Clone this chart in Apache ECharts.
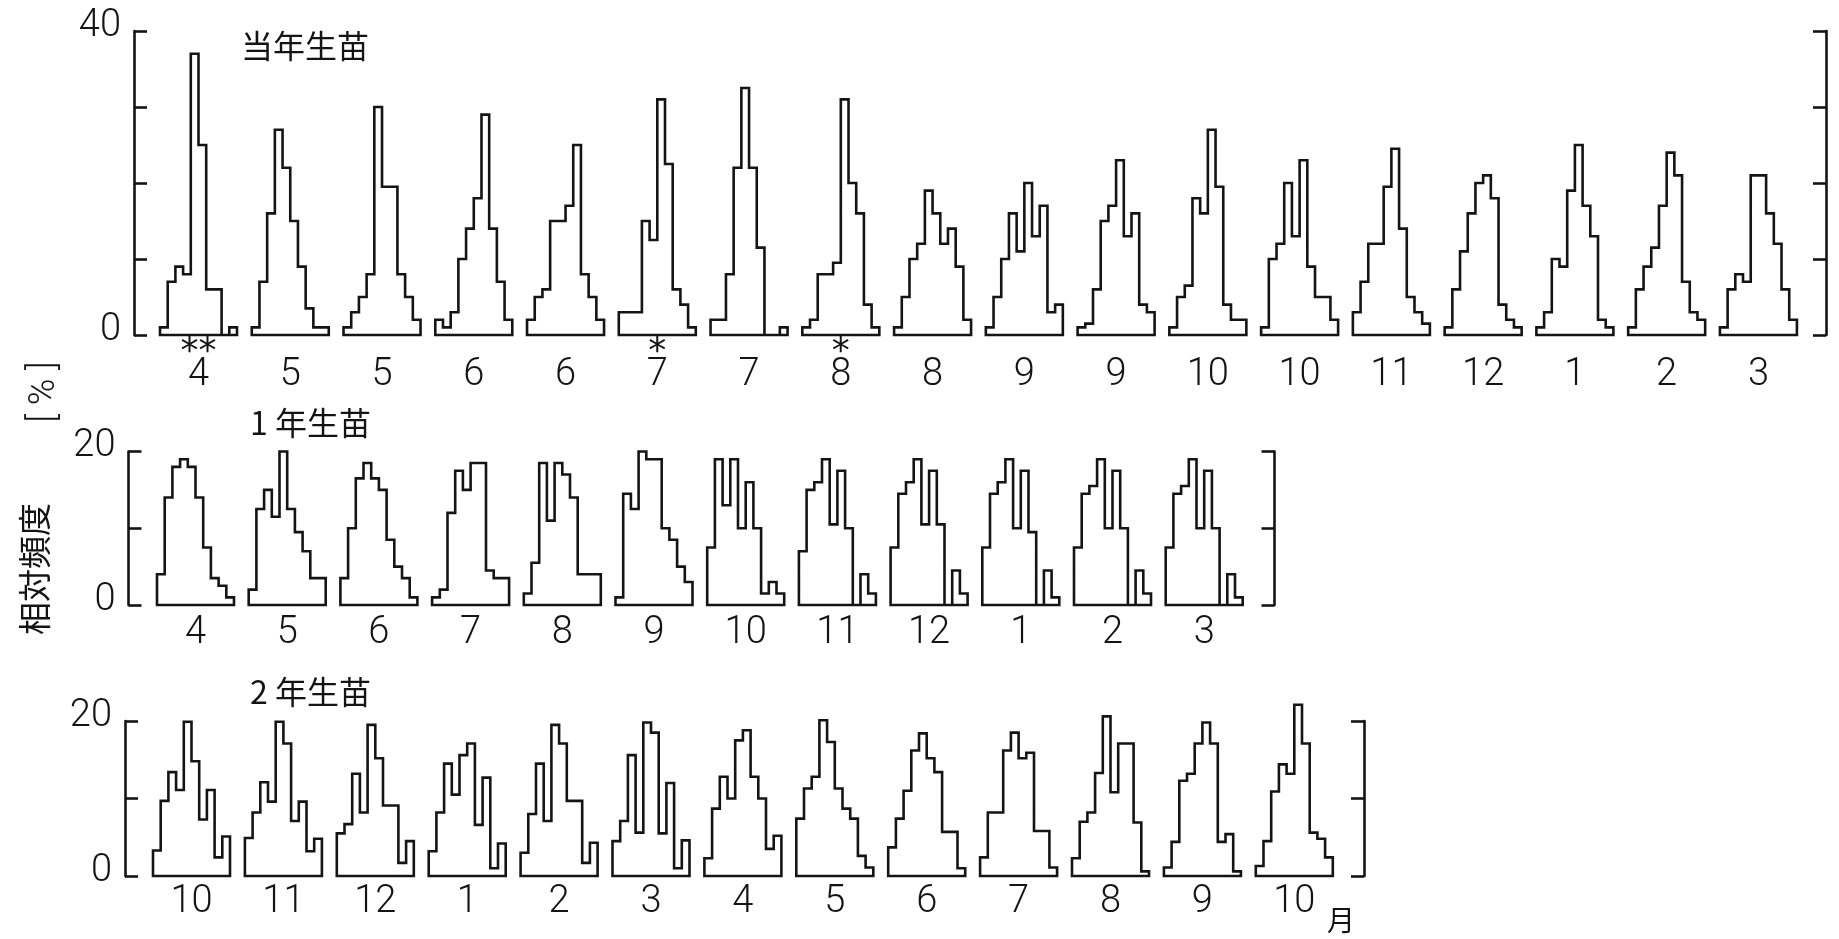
<!DOCTYPE html>
<html>
<head>
<meta charset="utf-8">
<script src="https://cdn.jsdelivr.net/npm/echarts@6/dist/echarts.min.js"></script>
<style>
  html, body { margin: 0; padding: 0; background: #ffffff; }
  #chart { width: 1839px; height: 939px; }
</style>
</head>
<body>
<div id="chart"></div>
<script>
// Relative frequency [%] of 10 size classes, one histogram per sampling month.

// 当年生苗 (seedlings of the current year)
const monthsCurrent = ['4','5','5','6','6','7','7','8','8','9','9','10','10','11','12','1','2','3'];
const marksCurrent  = ['**','','','','','*','','*','','','','','','','','','',''];
const freqCurrent = [
  [1, 7, 9, 8, 37, 25, 6, 6, 0, 1],
  [1, 7, 16, 27, 22, 15, 9, 3.5, 1, 1],
  [1, 3, 5, 8, 30, 19.5, 19.5, 8, 5, 2],
  [2, 1, 3, 10, 14, 18, 29, 14, 7, 2],
  [2, 5, 6, 15, 15, 17, 25, 8, 5, 2],
  [3, 3, 3, 15, 12.5, 31, 22.5, 6, 4, 1],
  [2, 2, 8, 22, 32.5, 22, 11.5, 0, 0, 1],
  [1, 2, 8, 8, 9.5, 31, 20, 16, 4, 1],
  [1, 5, 10, 12, 19, 16, 12, 14, 9, 2],
  [1, 5, 10, 16, 11, 20, 13, 17, 3, 4],
  [1, 1.5, 6, 15, 17, 23, 13, 16, 4, 3],
  [1, 5, 6.5, 18, 16, 27, 19.5, 4, 2, 2],
  [1, 10, 12, 20, 13, 23, 9, 5, 5, 2],
  [3, 7, 12, 12, 19.5, 24.5, 14, 5, 3, 1.5],
  [1, 6, 11, 16, 20, 21, 18, 4, 2, 1],
  [1, 3, 10, 9, 19, 25, 17, 13, 2, 1],
  [1, 6, 9, 11.5, 17, 24, 21, 7, 3, 2],
  [1, 6, 8, 7, 21, 21, 16, 12, 6, 2]
];

// 1年生苗 (one-year-old seedlings)
const monthsOneYear = ['4','5','6','7','8','9','10','11','12','1','2','3'];
const freqOneYear = [
  [4, 14, 18, 19, 18, 14, 7.5, 3.5, 2.5, 1],
  [2, 12.5, 15, 11.5, 20, 12.5, 9.5, 7, 3.5, 3.5],
  [3.5, 10, 16.5, 18.5, 16.5, 15, 8.5, 5, 3.5, 1],
  [1, 2, 12, 17.5, 15, 18.5, 18.5, 4.5, 3.5, 3.5],
  [1.5, 5.5, 18.5, 11, 18.5, 17, 14, 4, 4, 4],
  [1, 14.5, 12.5, 20, 19, 19, 10, 8.5, 5, 3],
  [7.5, 19, 13, 19, 10, 16, 10, 1.5, 3, 1.5],
  [7, 15, 16, 19, 10.5, 17.5, 10, 0, 4, 1.5],
  [7.5, 14.5, 16, 19, 10.5, 17.5, 10.5, 0, 4.5, 1.5],
  [7.5, 14.5, 16, 19, 10, 17.5, 9.5, 0, 4.5, 1],
  [7.5, 14.5, 15.5, 19, 10, 17.5, 10, 0, 4.5, 1.5],
  [7.5, 14.5, 15.5, 19, 10, 17.5, 10, 0, 4, 1]
];

// 2年生苗 (two-year-old seedlings)
const monthsTwoYear = ['10','11','12','1','2','3','4','5','6','7','8','9','10'];
const freqTwoYear = [
  [3.3, 9.7, 13.4, 11.1, 19.9, 14.8, 7.3, 11.1, 2.4, 5.1],
  [4.9, 8.2, 12.1, 9.6, 19.9, 17.1, 7.1, 9.6, 3.2, 4.8],
  [5.5, 6.7, 13.2, 8.2, 19.5, 15.2, 9.1, 9.1, 1.7, 4.5],
  [3.2, 8.2, 14.5, 10.5, 15.6, 17.1, 6.6, 12.7, 1, 4.2],
  [3, 8, 14.5, 7.1, 19.5, 17.1, 9.7, 9.7, 1.7, 4.3],
  [4.5, 7.1, 15.6, 5.6, 19.8, 18.5, 5.5, 12, 1, 4.6],
  [2.3, 8.7, 12.8, 10, 17.5, 18.8, 12.8, 10, 3.5, 5.2],
  [7.4, 11.3, 12.8, 20.1, 17.3, 11.3, 8.7, 7.4, 2.6, 1.1],
  [3.7, 7.4, 11, 16.2, 18.4, 15.2, 13.4, 5.7, 5.7, 1],
  [2.4, 8.2, 8.2, 16.2, 18.5, 15.2, 15.9, 5.8, 5.8, 1.1],
  [2.3, 7, 8.2, 13.3, 20.6, 10.8, 17.1, 17.1, 6.9, 0.6],
  [1.1, 4.4, 12.3, 13.2, 17.1, 19.8, 17.1, 4.4, 5.4, 0.6],
  [1.3, 4.5, 10.9, 14.4, 13.2, 22.1, 17.1, 5.6, 4.8, 2.4]
];

// ---- layout & style ----
const INK = '#141414';
const NUM_FONT = 'Roboto, "Liberation Sans", sans-serif';
const CJK_FONT = '"Noto Sans CJK JP", "Noto Sans CJK SC", sans-serif';
const CLASS_PX = 7.7;      // width of one size class in pixels
const LINE_W = 2.6;
const NUM_SIZE = 38;

const panels = [
  { title: '当年生苗', months: monthsCurrent, marks: marksCurrent, freq: freqCurrent, yMax: 40,
    left: 134, right: 1826, top: 31, bottom: 335, start: 160, step: 91.76,
    titleX: 241, titleY: 46, labelGap: 40, markGap: 18 },
  { title: '1 年生苗', months: monthsOneYear, marks: null, freq: freqOneYear, yMax: 20,
    left: 128.5, right: 1274.5, top: 451.5, bottom: 605, start: 157, step: 91.7,
    titleX: 250, titleY: 423, labelGap: 28 },
  { title: '2 年生苗', months: monthsTwoYear, marks: null, freq: freqTwoYear, yMax: 20,
    left: 125, right: 1364, top: 721, bottom: 876, start: 153, step: 91.9,
    titleX: 250, titleY: 692, labelGap: 26 }
];

// closed step outline of one histogram starting at class position `origin`
function outline(values, origin) {
  const pts = [[origin, 0]];
  values.forEach((v, i) => {
    pts.push([origin + i, v], [origin + i + 1, v]);
  });
  pts.push([origin + values.length, 0], [origin, 0]);
  return pts;
}

const grid = [], xAxis = [], yAxis = [], series = [], graphic = [];

panels.forEach((p, r) => {
  const xMin = (p.left - p.start) / CLASS_PX;
  const xMax = (p.right - p.start) / CLASS_PX;
  const shift = p.step / CLASS_PX;
  const nClass = p.freq[0].length;
  const centers = p.months.map((_, k) => k * shift + nClass / 2);
  const indexAt = v => Math.round((v - nClass / 2) / shift);

  grid.push({ left: p.left, top: p.top, width: p.right - p.left, height: p.bottom - p.top,
              containLabel: false, outerBoundsMode: 'none' });

  const xi = xAxis.length;
  xAxis.push({
    gridIndex: r, type: 'value', min: xMin, max: xMax, position: 'bottom',
    axisLine: { show: false, onZero: false }, axisTick: { show: false }, splitLine: { show: false },
    axisLabel: {
      customValues: centers, formatter: v => p.months[indexAt(v)],
      margin: p.labelGap, verticalAlign: 'middle',
      color: INK, fontFamily: NUM_FONT, fontWeight: 300, fontSize: NUM_SIZE
    }
  });
  if (p.marks) {
    const markVals = centers.filter((_, k) => p.marks[k]);
    xAxis.push({
      gridIndex: r, type: 'value', min: xMin, max: xMax, position: 'bottom', offset: 0,
      axisLine: { show: false, onZero: false }, axisTick: { show: false }, splitLine: { show: false },
      axisLabel: {
        customValues: markVals, formatter: v => p.marks[indexAt(v)],
        margin: p.markGap, verticalAlign: 'middle',
        color: INK, fontFamily: '"DejaVu Sans", sans-serif', fontSize: 36
      }
    });
  }

  const yi = yAxis.length;
  const axisCommon = {
    gridIndex: r, type: 'value', min: 0, max: p.yMax, interval: 10,
    axisLine: { show: true, onZero: false, lineStyle: { color: INK, width: LINE_W } },
    axisTick: { show: true, inside: true, length: 13, lineStyle: { color: INK, width: LINE_W } },
    splitLine: { show: false }
  };
  yAxis.push(Object.assign({}, axisCommon, {
    position: 'left',
    axisLabel: {
      formatter: v => (v === 0 || v === p.yMax) ? '{n|' + v + '}' : '',
      margin: 13,
      rich: {
        n: { color: INK, fontFamily: NUM_FONT, fontWeight: 300, fontSize: NUM_SIZE,
             padding: [0, 0, 10, 0] }
      }
    }
  }));
  yAxis.push(Object.assign({}, axisCommon, { position: 'right', axisLabel: { show: false } }));

  p.freq.forEach((vals, k) => {
    series.push({
      type: 'line', xAxisIndex: xi, yAxisIndex: yi,
      data: outline(vals, k * shift),
      showSymbol: false, symbol: 'none', silent: true, clip: false,
      lineStyle: { color: INK, width: LINE_W, join: 'miter', cap: 'square' }
    });
  });

  graphic.push({
    type: 'text', x: p.titleX, y: p.titleY, silent: true,
    style: { text: p.title, fill: INK, fontFamily: CJK_FONT, fontSize: 32,
             align: 'left', verticalAlign: 'middle' }
  });
});

// vertical axis name and unit
graphic.push({
  type: 'text', x: 34, y: 569, rotation: Math.PI / 2, silent: true,
  style: { text: '相対頻度', fill: INK, fontFamily: CJK_FONT, fontSize: 33,
           align: 'center', verticalAlign: 'middle' }
});
graphic.push({
  type: 'text', x: 45, y: 392, rotation: Math.PI / 2, silent: true,
  style: { text: '[ % ]', fill: INK, fontFamily: NUM_FONT, fontWeight: 300, fontSize: 36,
           align: 'center', verticalAlign: 'middle' }
});
// month unit after the last label
graphic.push({
  type: 'text', x: 1341, y: 920, silent: true,
  style: { text: '月', fill: INK, fontFamily: CJK_FONT, fontSize: 28,
           align: 'center', verticalAlign: 'middle' }
});

const chart = echarts.init(document.getElementById('chart'), null, { renderer: 'canvas' });
chart.setOption({
  animation: false,
  backgroundColor: '#ffffff',
  grid, xAxis, yAxis, series, graphic
});
</script>
</body>
</html>
